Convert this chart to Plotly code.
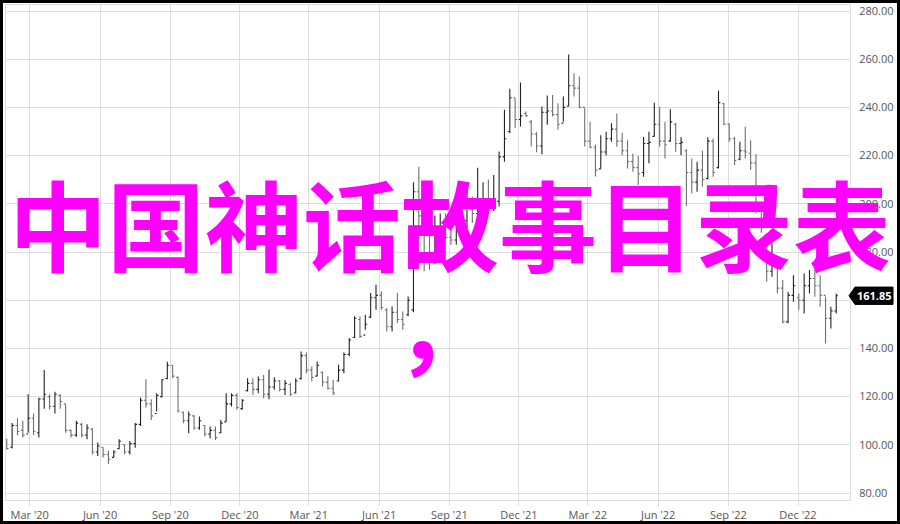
import pandas as pd
import plotly.graph_objects as go

start_date = "2020-01-31"
n_weeks = 156

opens = [102, 99, 108, 106, 104.5, 111, 105, 119, 120, 116, 120.5, 117, 106, 104, 108.5, 104, 106.5, 97, 99, 96,
         94.8, 98.5, 100, 97, 100.5, 108.5, 118.5, 117, 113, 120, 127.5, 133, 128, 113.5, 110, 112, 107, 108, 104.5, 106,
         105, 109.5, 117, 120.5, 115, 122.5, 125.5, 123, 127, 121, 124, 126.5, 123, 125, 121.5, 127.5, 137, 131, 128.5, 130,
         126, 123.5, 126.5, 131, 137.5, 144.5, 152, 145.5, 153, 161, 162, 156, 149, 155, 152, 154, 156, 205, 195, 178,
         176, 186, 190, 186, 185, 190, 193, 200, 196, 201, 202, 200, 201, 219.5, 230, 244, 235, 237.5, 234, 229,
         224, 238, 238.5, 237, 233.5, 240.5, 249, 248, 240, 226, 223.5, 214.5, 221.5, 227, 231, 226, 222, 217.5, 215, 213,
         225, 228, 233, 226, 226, 233, 225, 222, 213, 209, 214, 210.5, 226, 215, 241.5, 233, 227, 218.5, 222, 221,
         217, 197, 187, 172, 176, 165, 151, 162, 161, 160, 166, 169, 166, 162, 152.5, 155.5]
highs = [102.5, 109, 111, 110, 121, 113, 119.5, 131, 121, 122, 121, 116.8, 106.4, 110, 109, 108.5, 106.9, 101, 99, 97.5,
         97.7, 102.3, 100.2, 101.6, 109, 119.6, 127.2, 118.9, 121.4, 127.2, 134.5, 133.1, 128.3, 113.8, 113.8, 112.4, 111.7, 108.2, 107.6, 107.6,
         110.3, 121.4, 121.4, 121.4, 118.9, 127.6, 127.6, 128.3, 129, 131.3, 128, 126.9, 126.9, 125.8, 127.6, 138.7, 138.3, 132.5, 134.6, 130.4,
         128.4, 127, 133.2, 138.3, 144.3, 153.3, 153.3, 154, 163, 166.4, 163.6, 156.7, 157.4, 163, 155.3, 161.5, 209, 215.4, 205, 200,
         195, 196, 196, 197, 192, 204, 206.5, 203, 215, 209, 210, 212, 221.7, 239, 247.7, 243.8, 250.3, 238.3, 234.8, 229.7,
         240.4, 244.9, 245.2, 241.7, 244.5, 262, 254.2, 252.8, 239.7, 234.1, 224.5, 228.5, 229.9, 233.4, 237.5, 229.5, 226.4, 220.9, 219.8, 227.8,
         229.9, 241.9, 240.3, 234.1, 239.2, 233.6, 227.6, 222.6, 218.8, 217.5, 222, 227.6, 227.1, 246.9, 241.9, 233.4, 227.8, 225.8, 232, 226.4,
         220.6, 198, 187.7, 183.6, 176.7, 168.4, 163.5, 170.4, 162.8, 171.1, 172.5, 172.5, 170.4, 161.4, 157.3, 162.8]
lows = [98, 98.5, 104, 103, 105, 104, 103, 115, 114.7, 113, 115, 105, 103, 103.3, 103, 102.3, 96, 95.4, 94.7, 92,
        94.7, 98.2, 96, 96, 98.8, 107.8, 115.4, 110.3, 113.8, 119.7, 127.2, 127.6, 113.4, 108.9, 104.8, 106.2, 106.2, 103.4, 102.7, 102,
        104.8, 109.6, 115.9, 114.5, 114.5, 122.1, 120.7, 121.4, 119.3, 118.9, 122.8, 122.1, 120.7, 120.3, 121.4, 127, 129.7, 126.3, 128.4, 124.2,
        122.8, 120.7, 126.3, 129.7, 136.7, 144.3, 144.3, 147.7, 152.6, 156, 156, 147, 147, 150.5, 147.7, 153.3, 155, 190, 172, 172.6,
        175, 182, 185, 183, 183, 186, 190, 192, 194, 196, 197, 197, 198.9, 217.5, 229.3, 231.4, 232.1, 236.2, 223.8, 221.4,
        220.6, 232.8, 236.2, 230.7, 234.1, 240.4, 244.5, 239.7, 223.8, 223.1, 211.3, 214.7, 220.2, 225.8, 223.7, 220.2, 214.7, 213.3, 207.8, 211.2,
        216.8, 227.8, 223.7, 218.8, 225.8, 221.6, 220.2, 199.1, 204.3, 205, 207.1, 210.1, 211.2, 214.7, 232.7, 225.8, 216.1, 218.1, 218.8, 214,
        196, 188, 167.7, 169.7, 162.8, 150.4, 150.4, 159.4, 155.9, 154.5, 162.8, 161.4, 157.3, 142.1, 148.3, 154.5]
closes = [98.5, 108, 105.5, 104, 111, 105.5, 119, 121, 116, 121, 118, 106, 104, 109, 104, 107, 97, 99.5, 96, 94,
          97, 101.5, 97, 100.5, 108.5, 118.5, 117, 112, 120.5, 127, 133, 128.5, 114, 110, 112.5, 107, 110, 104.5, 106, 103,
          109, 117, 120.5, 115.5, 118.5, 125.5, 123, 127, 121, 124, 126.5, 123, 125.5, 121, 126.5, 137, 131, 128, 133, 126,
          123.5, 121.5, 131, 137.5, 143.5, 152.5, 145, 150, 161, 162, 157, 149, 155, 152, 150, 160, 205, 195, 178, 176,
          186, 190, 186, 185, 190, 193, 200, 196, 201, 202, 200, 201, 219.5, 227, 244, 235, 236.5, 236.5, 229, 224,
          238, 238.5, 237, 233, 240, 249, 248, 240, 226, 223.5, 214, 221.5, 227, 231, 226, 222, 217.5, 215, 212.5, 225,
          225.5, 233, 226, 224.5, 234, 225, 225.5, 213, 209, 214, 210, 226, 213, 242, 233, 227, 218, 222, 221.5, 217,
          198, 190, 172, 178, 165, 151, 162, 166, 160, 166, 169, 166, 162, 152.5, 155.5, 161.85]

y_ticks = [80, 100, 120, 140, 160, 180, 200, 220, 240, 260, 280]
title_text = "中国神话故事目录表"
comma_text = "，"
last_price = closes[-1]

dates = pd.date_range(start=start_date, periods=n_weeks, freq="7D")

fig = go.Figure(go.Ohlc(
    x=dates, open=opens, high=highs, low=lows, close=closes,
    increasing=dict(line=dict(color="#222222", width=1.1)),
    decreasing=dict(line=dict(color="#6f6f6f", width=1.1)),
    tickwidth=0.35,
    hoverinfo="skip",
))

W, H = 900, 524
L, R, T, B = 6, 50, 5, 24
pw, ph = W - L - R, H - T - B

def px_x(x):
    return (x - L) / pw

def px_y(y):
    return (H - B - y) / ph

fig.update_layout(
    width=W, height=H,
    margin=dict(l=L, r=R, t=T, b=B, autoexpand=False),
    paper_bgcolor="white", plot_bgcolor="white",
    showlegend=False,
    font=dict(family="Open Sans, Noto Sans, sans-serif", size=11, color="#555555"),
    xaxis=dict(
        type="date", automargin=False,
        range=["2020-01-30", "2023-02-07"],
        tick0="2020-03-01", dtick="M3", tickformat="%b '%y",
        showgrid=True, gridcolor="#dddddd", gridwidth=1,
        ticks="outside", ticklen=5, tickcolor="#dddddd",
        showline=True, linecolor="#dddddd", mirror=True,
        rangeslider=dict(visible=False),
        tickfont=dict(size=11, color="#555555"),
        fixedrange=True,
    ),
    yaxis=dict(
        side="right", automargin=False,
        range=[77.1, 282.5],
        tickvals=y_ticks, tickformat=".2f",
        showgrid=True, gridcolor="#dddddd", gridwidth=1,
        ticks="outside", ticklen=6, tickcolor="rgba(0,0,0,0)",
        showline=True, linecolor="#dddddd", mirror=True,
        zeroline=False,
        tickfont=dict(size=11, color="#555555"),
        fixedrange=True,
    ),
)

# last price tag
fig.add_shape(type="path", xref="paper", yref="y",
              path=f"M {px_x(849)} {last_price} L {px_x(855)} {last_price + 3.6} L {px_x(893)} {last_price + 3.6} "
                   f"L {px_x(893)} {last_price - 3.6} L {px_x(855)} {last_price - 3.6} Z",
              fillcolor="black", line=dict(color="black", width=1), layer="above")
fig.add_annotation(xref="paper", yref="y", x=px_x(874), y=last_price,
                   text=f"<b>{last_price:.2f}</b>", showarrow=False,
                   font=dict(size=11, color="white", family="Open Sans, sans-serif"),
                   xanchor="center", yanchor="middle")

# outer frame
fig.add_shape(type="rect", xref="paper", yref="paper",
              x0=px_x(1.5), x1=px_x(898.5), y0=px_y(522.5), y1=px_y(1.5),
              line=dict(color="black", width=3), fillcolor="rgba(0,0,0,0)", layer="above")

# overlay text
fig.add_annotation(xref="paper", yref="paper", x=px_x(450), y=px_y(221),
                   text=f"<b>{title_text}</b>", showarrow=False,
                   font=dict(size=98, color="#ff00ff", family="Noto Sans CJK SC"),
                   xanchor="center", yanchor="middle")
fig.add_annotation(xref="paper", yref="paper", x=px_x(444), y=px_y(321),
                   text=f"<b>{comma_text}</b>", showarrow=False,
                   font=dict(size=98, color="#ff00ff", family="Noto Sans CJK SC"),
                   xanchor="center", yanchor="middle")

fig.write_html("out.html", config={"displayModeBar": False},
               post_script="document.body.style.margin='0';document.body.style.overflow='hidden';")
